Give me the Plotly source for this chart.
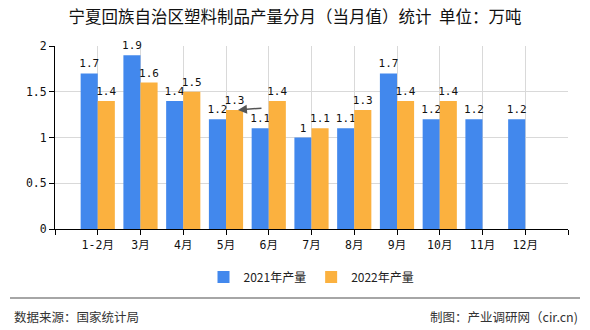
import plotly.graph_objects as go

categories = ["1-2月", "3月", "4月", "5月", "6月", "7月", "8月", "9月", "10月", "11月", "12月"]
series_2021 = [1.7, 1.9, 1.4, 1.2, 1.1, 1.0, 1.1, 1.7, 1.2, 1.2, 1.2]
series_2022 = [1.4, 1.6, 1.5, 1.3, 1.4, 1.1, 1.3, 1.4, 1.4, None, None]
y_ticks = [0, 0.5, 1, 1.5, 2]
y_tick_labels = ["0", "0.5", "1", "1.5", "2"]

title = "宁夏回族自治区塑料制品产量分月（当月值）统计  单位：万吨"
source = "数据来源：国家统计局"
maker = "制图：产业调研网（cir.cn)"

FONT = "DejaVu Sans Mono, Noto Sans CJK SC, sans-serif"
CJK = "Noto Sans CJK SC, sans-serif"

x_idx = list(range(len(categories)))

def fmt(v):
    if v is None:
        return ""
    return ("%g" % v)

fig = go.Figure()
fig.add_trace(go.Bar(
    x=x_idx, y=series_2021, name="2021年产量",
    marker=dict(color="#4288ED", line=dict(width=0)),
    text=[fmt(v) for v in series_2021], textposition="outside",
    textfont=dict(family=FONT, size=11, color="#111"), cliponaxis=False,
))
fig.add_trace(go.Bar(
    x=x_idx, y=series_2022, name="2022年产量",
    marker=dict(color="#FBB13F", line=dict(width=0)),
    text=[fmt(v) for v in series_2022], textposition="outside",
    textfont=dict(family=FONT, size=11, color="#111"), cliponaxis=False,
))

fig.update_layout(
    width=590, height=330,
    margin=dict(l=55, r=22, t=46, b=101),
    paper_bgcolor="white", plot_bgcolor="white",
    barmode="group", bargap=0.2, bargroupgap=0,
    uniformtext=dict(minsize=11, mode="show"),
    title=dict(text=title, x=0.5, xanchor="center", y=1 - 17 / 330, yanchor="middle",
               font=dict(family=CJK, size=16.5, color="#111")),
    legend=dict(orientation="h", x=0.5, xanchor="center", y=-0.262, yanchor="middle",
                font=dict(family=CJK, size=12, color="#222"), itemwidth=30,
                traceorder="normal"),
    showlegend=True,
    xaxis=dict(
        range=[-1, 11],
        tickmode="array",
        tickvals=[-1] + x_idx + [11],
        ticktext=[""] + categories + [""],
        showgrid=True, gridcolor="#d9d9d9", gridwidth=1,
        showline=True, linecolor="#000", linewidth=1,
        ticks="outside", ticklen=5, tickcolor="#000",
        tickfont=dict(family=FONT, size=11.5, color="#111"),
        zeroline=False,
    ),
    yaxis=dict(
        range=[0, 2],
        tickmode="array", tickvals=y_ticks, ticktext=y_tick_labels,
        showgrid=True, gridcolor="#d9d9d9", gridwidth=1,
        showline=True, linecolor="#000", linewidth=1,
        ticks="outside", ticklen=5, tickcolor="#000",
        tickfont=dict(family=FONT, size=11.5, color="#111"),
        zeroline=False,
    ),
    shapes=[dict(type="line", xref="paper", yref="paper",
                 x0=(10 - 55) / 513, x1=(580 - 55) / 513,
                 y0=(229 - 298) / 183, y1=(229 - 298) / 183,
                 line=dict(color="#888", width=1.5))],
    annotations=[
        dict(text=source, xref="paper", yref="paper", x=(12 - 55) / 513, xanchor="left",
             y=(229 - 316) / 183, yanchor="middle", showarrow=False,
             font=dict(family=CJK, size=12.5, color="#333")),
        dict(text=maker, xref="paper", yref="paper", x=(580 - 55) / 513, xanchor="right",
             y=(229 - 316) / 183, yanchor="middle", showarrow=False,
             font=dict(family=CJK, size=12.5, color="#333")),
        dict(text="", x=3.28, y=1.3, xref="x", yref="y", showarrow=True,
             ax=25, ay=-2, arrowhead=2, arrowsize=1.2, arrowwidth=1.5,
             arrowcolor="#555"),
    ],
)

fig.write_html("out.html")
